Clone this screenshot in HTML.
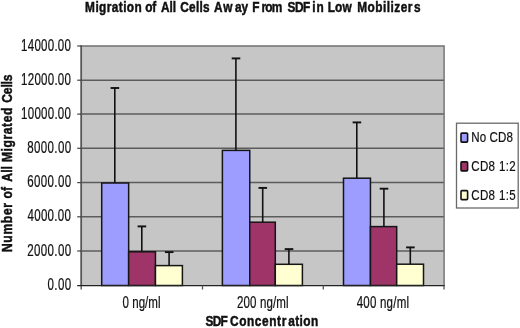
<!DOCTYPE html>
<html><head><meta charset="utf-8"><title>Migration of All Cells Away From SDF in Low Mobilizers</title>
<style>html,body{margin:0;padding:0;background:#fff}svg{display:block;will-change:transform}text{font-family:"Liberation Sans",Arial,sans-serif;fill:#111}</style></head><body>
<svg width="520" height="328" viewBox="0 0 520 328">
<rect width="520" height="328" fill="#fff"/>
<rect x="80.5" y="46" width="363.6" height="239" fill="#c6c6c6"/>
<line x1="80.5" x2="444.1" y1="80.20" y2="80.20" stroke="#5c5c5c" stroke-width="1.5"/>
<line x1="80.5" x2="444.1" y1="114.10" y2="114.10" stroke="#5c5c5c" stroke-width="1.5"/>
<line x1="80.5" x2="444.1" y1="148.30" y2="148.30" stroke="#5c5c5c" stroke-width="1.5"/>
<line x1="80.5" x2="444.1" y1="182.60" y2="182.60" stroke="#5c5c5c" stroke-width="1.5"/>
<line x1="80.5" x2="444.1" y1="216.80" y2="216.80" stroke="#5c5c5c" stroke-width="1.5"/>
<line x1="80.5" x2="444.1" y1="251.00" y2="251.00" stroke="#5c5c5c" stroke-width="1.5"/>
<path d="M80.5 46H444.1V285" fill="none" stroke="#707070" stroke-width="1.4"/>
<rect x="101.70" y="183" width="26.95" height="102.50" fill="#9d9dff" stroke="#151515" stroke-width="1.5"/>
<rect x="128.65" y="251.8" width="26.80" height="33.70" fill="#9e3468" stroke="#151515" stroke-width="1.5"/>
<rect x="155.45" y="265.6" width="26.95" height="19.90" fill="#ffffd2" stroke="#151515" stroke-width="1.5"/>
<path d="M114.80 183V88" fill="none" stroke="#111" stroke-width="1.6"/>
<path d="M110.60 88H119.20" fill="none" stroke="#111" stroke-width="1.9"/>
<path d="M141.80 251.8V226.4" fill="none" stroke="#111" stroke-width="1.6"/>
<path d="M137.60 226.4H146.20" fill="none" stroke="#111" stroke-width="1.9"/>
<path d="M169.10 265.6V252.1" fill="none" stroke="#111" stroke-width="1.6"/>
<path d="M164.90 252.1H173.50" fill="none" stroke="#111" stroke-width="1.9"/>
<rect x="222.40" y="150.4" width="27.35" height="135.10" fill="#9d9dff" stroke="#151515" stroke-width="1.5"/>
<rect x="249.75" y="222.2" width="25.55" height="63.30" fill="#9e3468" stroke="#151515" stroke-width="1.5"/>
<rect x="275.30" y="264.3" width="27.10" height="21.20" fill="#ffffd2" stroke="#151515" stroke-width="1.5"/>
<path d="M235.90 150.4V58.4" fill="none" stroke="#111" stroke-width="1.6"/>
<path d="M231.70 58.4H240.30" fill="none" stroke="#111" stroke-width="1.9"/>
<path d="M262.70 222.2V187.9" fill="none" stroke="#111" stroke-width="1.6"/>
<path d="M258.50 187.9H267.10" fill="none" stroke="#111" stroke-width="1.9"/>
<path d="M288.90 264.3V249.1" fill="none" stroke="#111" stroke-width="1.6"/>
<path d="M284.70 249.1H293.30" fill="none" stroke="#111" stroke-width="1.9"/>
<rect x="343.50" y="178.2" width="26.95" height="107.30" fill="#9d9dff" stroke="#151515" stroke-width="1.5"/>
<rect x="370.45" y="226.6" width="26.25" height="58.90" fill="#9e3468" stroke="#151515" stroke-width="1.5"/>
<rect x="396.70" y="264.2" width="26.80" height="21.30" fill="#ffffd2" stroke="#151515" stroke-width="1.5"/>
<path d="M356.80 178.2V122.4" fill="none" stroke="#111" stroke-width="1.6"/>
<path d="M352.60 122.4H361.20" fill="none" stroke="#111" stroke-width="1.9"/>
<path d="M383.90 226.6V188.7" fill="none" stroke="#111" stroke-width="1.6"/>
<path d="M379.70 188.7H388.30" fill="none" stroke="#111" stroke-width="1.9"/>
<path d="M410.30 264.2V247.4" fill="none" stroke="#111" stroke-width="1.6"/>
<path d="M406.10 247.4H414.70" fill="none" stroke="#111" stroke-width="1.9"/>
<path d="M81.2 45.4V285.5" fill="none" stroke="#565656" stroke-width="1.7"/>
<path d="M81.2 285.5V289.5" fill="none" stroke="#666" stroke-width="1.5"/>
<path d="M77.2 285.5H444.8" fill="none" stroke="#222" stroke-width="1.25"/>
<line x1="77.2" x2="81.2" y1="46.00" y2="46.00" stroke="#444" stroke-width="1.2"/>
<line x1="77.2" x2="81.2" y1="80.20" y2="80.20" stroke="#444" stroke-width="1.2"/>
<line x1="77.2" x2="81.2" y1="114.10" y2="114.10" stroke="#444" stroke-width="1.2"/>
<line x1="77.2" x2="81.2" y1="148.30" y2="148.30" stroke="#444" stroke-width="1.2"/>
<line x1="77.2" x2="81.2" y1="182.60" y2="182.60" stroke="#444" stroke-width="1.2"/>
<line x1="77.2" x2="81.2" y1="216.80" y2="216.80" stroke="#444" stroke-width="1.2"/>
<line x1="77.2" x2="81.2" y1="251.00" y2="251.00" stroke="#444" stroke-width="1.2"/>
<line x1="202.50" x2="202.50" y1="285.5" y2="289.5" stroke="#555" stroke-width="1.3"/>
<line x1="323.30" x2="323.30" y1="285.5" y2="289.5" stroke="#555" stroke-width="1.3"/>
<line x1="444.00" x2="444.00" y1="285.5" y2="289.5" stroke="#555" stroke-width="1.3"/>
<rect x="456.5" y="123.2" width="61.7" height="84.8" fill="#fff" stroke="#6a6a6a" stroke-width="1.3"/>
<rect x="461" y="133.10" width="6.6" height="9.0" rx="0.9" fill="#9d9dff" stroke="#111" stroke-width="1.6"/>
<rect x="461" y="161.85" width="6.6" height="9.0" rx="0.9" fill="#9e3468" stroke="#111" stroke-width="1.6"/>
<rect x="461" y="190.60" width="6.6" height="9.0" rx="0.9" fill="#ffffd2" stroke="#111" stroke-width="1.6"/>
<text transform="translate(85.10,12.30) scale(0.78,1)" font-weight="bold" stroke="#111" stroke-width="0.5" font-size="15.2"><tspan x="0.00" letter-spacing="0.534">Migration</tspan> <tspan x="77.24" letter-spacing="-0.346">of</tspan> <tspan x="97.31">All</tspan> <tspan x="122.05" letter-spacing="0.332">Cells</tspan> <tspan x="165.38" letter-spacing="1.038">Aw</tspan><tspan x="192.05">ay</tspan> <tspan x="214.42">F</tspan><tspan x="226.22" letter-spacing="-1.096">rom</tspan> <tspan x="259.49" letter-spacing="-0.577">SDF</tspan> <tspan x="291.22" letter-spacing="1.154">in</tspan> <tspan x="311.09" letter-spacing="0.144">Low</tspan> <tspan x="348.91" letter-spacing="0.591">Mobilizer</tspan><tspan x="421.79">s</tspan></text>
<text transform="translate(205.50,326.00) scale(0.78,1)" font-weight="bold" stroke="#111" stroke-width="0.5" font-size="15.2"><tspan x="0.00" letter-spacing="-0.952">SDF</tspan> <tspan x="31.41" letter-spacing="0.783">Concentr</tspan><tspan x="106.09" letter-spacing="0.505">ation</tspan></text>
<text transform="translate(12.40,252.05) rotate(-90) scale(0.835,1)" font-weight="bold" stroke="#111" stroke-width="0.5" font-size="14.5"><tspan x="0.00" letter-spacing="0.798">Number</tspan> <tspan x="64.25">of</tspan> <tspan x="84.25" letter-spacing="0.135">All</tspan> <tspan x="107.78" letter-spacing="0.685">Migrated</tspan> <tspan x="178.74" letter-spacing="-0.162">Cells</tspan></text>
<text transform="translate(122.50,307.60) scale(0.74,1)" stroke="#111" stroke-width="0.22" font-size="15.6" letter-spacing="0.051">0 ng/ml</text>
<text transform="translate(237.00,307.60) scale(0.74,1)" stroke="#111" stroke-width="0.22" font-size="15.6" letter-spacing="0.152">200 ng/ml</text>
<text transform="translate(356.75,307.60) scale(0.74,1)" stroke="#111" stroke-width="0.22" font-size="15.6" letter-spacing="0.266">400 ng/ml</text>
<text transform="translate(471.25,142.00) scale(0.78,1)" stroke="#111" stroke-width="0.22" font-size="14.8" letter-spacing="0.15">No CD8</text>
<text transform="translate(471.20,170.80) scale(0.78,1)" stroke="#111" stroke-width="0.22" font-size="14.8" letter-spacing="0.481">CD8 1:2</text>
<text transform="translate(471.20,199.50) scale(0.78,1)" stroke="#111" stroke-width="0.22" font-size="14.8" letter-spacing="0.481">CD8 1:5</text>
<text transform="translate(21.10,50.60) scale(0.74,1)" stroke="#111" stroke-width="0.22" font-size="15.6" letter-spacing="0.321">14000.00</text>
<text transform="translate(21.10,84.80) scale(0.74,1)" stroke="#111" stroke-width="0.22" font-size="15.6" letter-spacing="0.321">12000.00</text>
<text transform="translate(21.10,118.70) scale(0.74,1)" stroke="#111" stroke-width="0.22" font-size="15.6" letter-spacing="0.321">10000.00</text>
<text transform="translate(27.20,152.90) scale(0.74,1)" stroke="#111" stroke-width="0.22" font-size="15.6" letter-spacing="0.507">8000.00</text>
<text transform="translate(27.20,187.10) scale(0.74,1)" stroke="#111" stroke-width="0.22" font-size="15.6" letter-spacing="0.507">6000.00</text>
<text transform="translate(27.45,221.30) scale(0.74,1)" stroke="#111" stroke-width="0.22" font-size="15.6" letter-spacing="0.405">4000.00</text>
<text transform="translate(27.20,255.60) scale(0.74,1)" stroke="#111" stroke-width="0.22" font-size="15.6" letter-spacing="0.507">2000.00</text>
<text transform="translate(47.60,290.00) scale(0.74,1)" stroke="#111" stroke-width="0.22" font-size="15.6" letter-spacing="0.446">0.00</text>
</svg></body></html>
